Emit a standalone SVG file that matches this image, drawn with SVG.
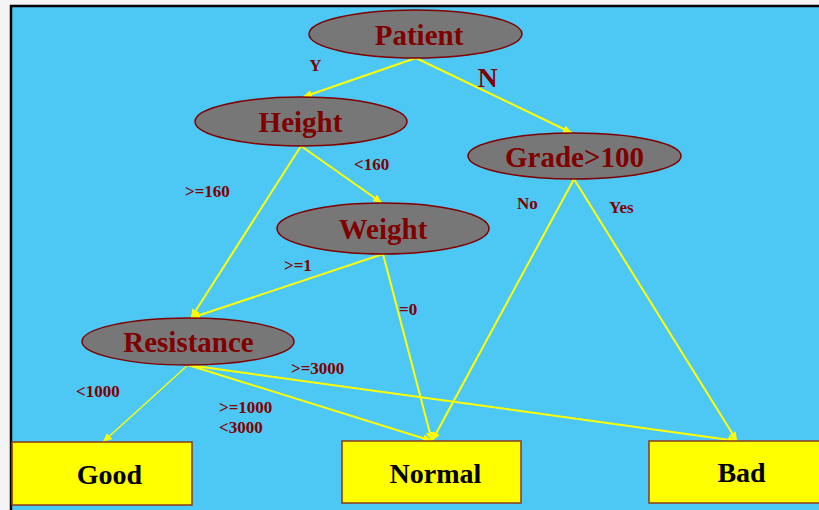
<svg xmlns="http://www.w3.org/2000/svg" width="819" height="510" viewBox="0 0 819 510">
<defs>
<marker id="arr" markerUnits="userSpaceOnUse" markerWidth="10" markerHeight="8" refX="9" refY="4" orient="auto">
<path d="M0,0 L9,4 L0,8 Z" fill="#FFFF00"/>
</marker>
<style>
.node ellipse{fill:#777777;stroke:#800000;stroke-width:1.5}
.node text{font-family:"Liberation Serif","Times New Roman",serif;font-weight:bold;font-size:29px;fill:#800000;text-anchor:middle}
.leaf rect{fill:#FFFF00;stroke:#8B3A1A;stroke-width:1.5}
.leaf text{font-family:"Liberation Serif","Times New Roman",serif;font-weight:bold;font-size:28px;fill:#000000;text-anchor:middle}
.edges line{stroke:#FFFF00;stroke-width:2;marker-end:url(#arr)}
.lbl{font-family:"Liberation Serif","Times New Roman",serif;font-weight:bold;font-size:17px;fill:#800000}
</style>
</defs>
<rect x="0" y="0" width="819" height="510" fill="#F4F4F4"/>
<rect x="11" y="6" width="830" height="520" fill="#4DC7F3" stroke="#000000" stroke-width="2.5"/>

<g id="connectors" class="edges">
<line x1="416" y1="58" x2="303" y2="97"/>
<line x1="416" y1="58" x2="572" y2="133"/>
<line x1="301" y1="146" x2="382" y2="203"/>
<line x1="301" y1="146" x2="191" y2="318"/>
<line x1="383" y1="254" x2="191" y2="318"/>
<line x1="383" y1="254" x2="432" y2="441"/>
<line x1="574" y1="179" x2="432" y2="441"/>
<line x1="574" y1="179" x2="737" y2="441"/>
<line x1="188" y1="365" x2="103" y2="442" style="stroke-width:1.3"/>
<line x1="188" y1="365" x2="432" y2="441"/>
<line x1="188" y1="365" x2="737" y2="441"/>
</g>

<g id="edge-labels">
<text class="lbl" x="315.5" y="71" text-anchor="middle" font-size="16">Y</text>
<text class="lbl" x="487.5" y="87" text-anchor="middle" style="font-size:28px">N</text>
<text class="lbl" x="354" y="170">&lt;160</text>
<text class="lbl" x="185" y="197">&gt;=160</text>
<text class="lbl" x="517" y="209">No</text>
<text class="lbl" x="609" y="213">Yes</text>
<text class="lbl" x="284" y="271">&gt;=1</text>
<text class="lbl" x="399" y="315">=0</text>
<text class="lbl" x="291" y="374">&gt;=3000</text>
<text class="lbl" x="76" y="397">&lt;1000</text>
<text class="lbl" x="219" y="413">&gt;=1000</text>
<text class="lbl" x="219" y="433">&lt;3000</text>
</g>

<g id="patient" class="node">
<ellipse cx="415.5" cy="34" rx="106.5" ry="24"/>
<text x="419" y="45">Patient</text>
</g>
<g id="height" class="node">
<ellipse cx="301" cy="121.5" rx="106" ry="24.5"/>
<text x="300.5" y="132">Height</text>
</g>
<g id="grade" class="node">
<ellipse cx="574.5" cy="156" rx="106.5" ry="23"/>
<text x="574.5" y="167">Grade&gt;100</text>
</g>
<g id="weight" class="node">
<ellipse cx="383" cy="228.5" rx="106" ry="25.5"/>
<text x="383" y="239">Weight</text>
</g>
<g id="resistance" class="node">
<ellipse cx="188" cy="341.5" rx="106" ry="23.5"/>
<text x="188.5" y="352">Resistance</text>
</g>

<g id="good" class="leaf">
<rect x="12" y="442" width="180" height="63"/>
<text x="109.5" y="484">Good</text>
</g>
<g id="normal" class="leaf">
<rect x="342" y="441" width="179" height="62"/>
<text x="435.5" y="483">Normal</text>
</g>
<g id="bad" class="leaf">
<rect x="649" y="441" width="180" height="62"/>
<text x="741.5" y="482">Bad</text>
</g>
</svg>
